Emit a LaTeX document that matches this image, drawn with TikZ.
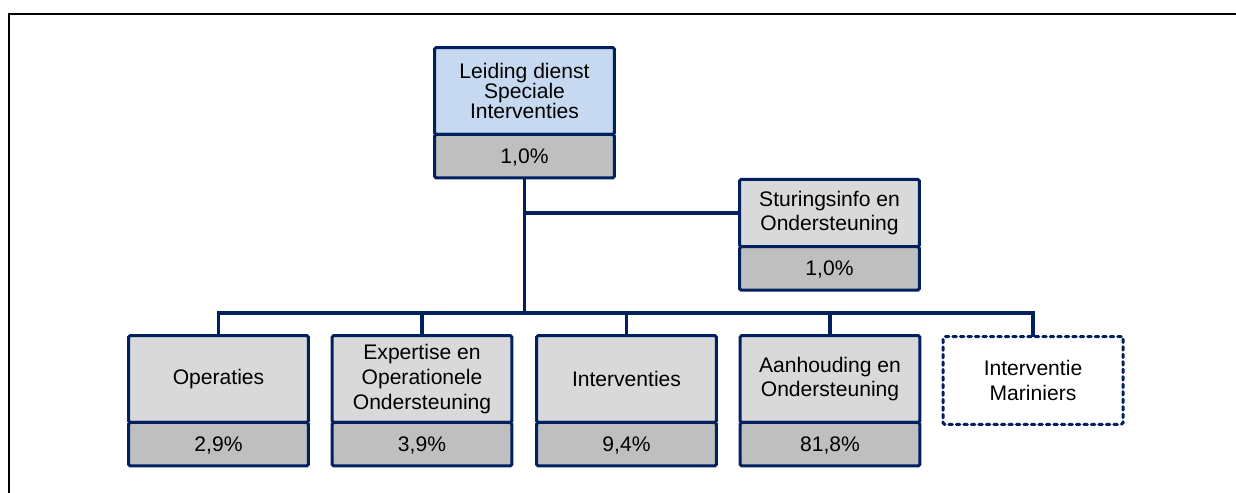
\documentclass[tikz,border=0pt]{standalone}
\usepackage{fontspec}
\setmainfont{Liberation Sans}
\usetikzlibrary{positioning}
\definecolor{navy}{RGB}{0,32,96}
\definecolor{lightblue}{RGB}{198,217,241}
\definecolor{boxgray}{RGB}{217,217,217}
\definecolor{pctgray}{RGB}{191,191,191}
\begin{document}
\begin{tikzpicture}[x=0.02cm, y=-0.02cm,
  namebox/.style={draw=navy, line width=0.06cm, rounded corners=1pt, outer sep=0pt,
                  fill=boxgray, minimum width=3.6cm, minimum height=1.74cm,
                  inner sep=1pt, align=center, font=\fontsize{12}{14}\selectfont},
  pctbox/.style={draw=navy, line width=0.06cm, rounded corners=1pt, outer sep=0pt,
                 fill=pctgray, minimum width=3.6cm, minimum height=0.87cm,
                 inner sep=1pt, text depth=0pt, font=\fontsize{12}{14}\selectfont},
  dashbox/.style={draw=navy, line width=0.06cm, rounded corners=1pt, outer sep=0pt,
                  dash pattern=on 0.07cm off 0.08cm, line cap=round,
                  minimum width=3.6cm, minimum height=1.76cm,
                  inner sep=1pt, align=center, font=\fontsize{12}{14}\selectfont},
  link/.style={draw=navy, line width=0.07cm},
]
  \useasboundingbox (0,0) rectangle (1236,493);

  % Frame
  \draw[line width=0.04cm] (9,493) -- (9,14) -- (1236,14);

  % Top
  \node[namebox, fill=lightblue, font=\fontsize{12}{11.4}\selectfont] (lds) at (524.5,91)
    {Leiding dienst\\Speciale\\Interventies};
  \node[pctbox, below=0pt of lds] (ldsp) {1,0\%};

  % Staff
  \node[namebox, minimum height=1.35cm] (sto) at (829.5,213) {Sturingsinfo en\\Ondersteuning};
  \node[pctbox, below=0pt of sto] (stop) {1,0\%};

  % Units
  \node[namebox] (ops) at (218.5,379) {Operaties};
  \node[namebox] (eoo) at (422,379)   {Expertise en\\Operationele\\Ondersteuning};
  \node[namebox] (itv) at (626.5,379) {Interventies};
  \node[namebox] (aho) at (830,379)   {Aanhouding en\\Ondersteuning};
  \node[dashbox] (imr) at (1033,380.5)  {Interventie\\Mariniers};
  \node[pctbox, below=0pt of ops] (opsp) {2,9\%};
  \node[pctbox, below=0pt of eoo] (eoop) {3,9\%};
  \node[pctbox, below=0pt of itv] (itvp) {9,4\%};
  \node[pctbox, below=0pt of aho] (ahop) {81,8\%};

  % Lines
  \coordinate (bus) at (524.5,313);
  \draw[link] (ldsp.south) -- (bus);
  \draw[link] (sto.west) -- (sto.west -| ldsp.south);
  \foreach \u in {ops, eoo, itv, aho, imr}
    \draw[link] (bus) -| (\u.north);
\end{tikzpicture}
\end{document}
